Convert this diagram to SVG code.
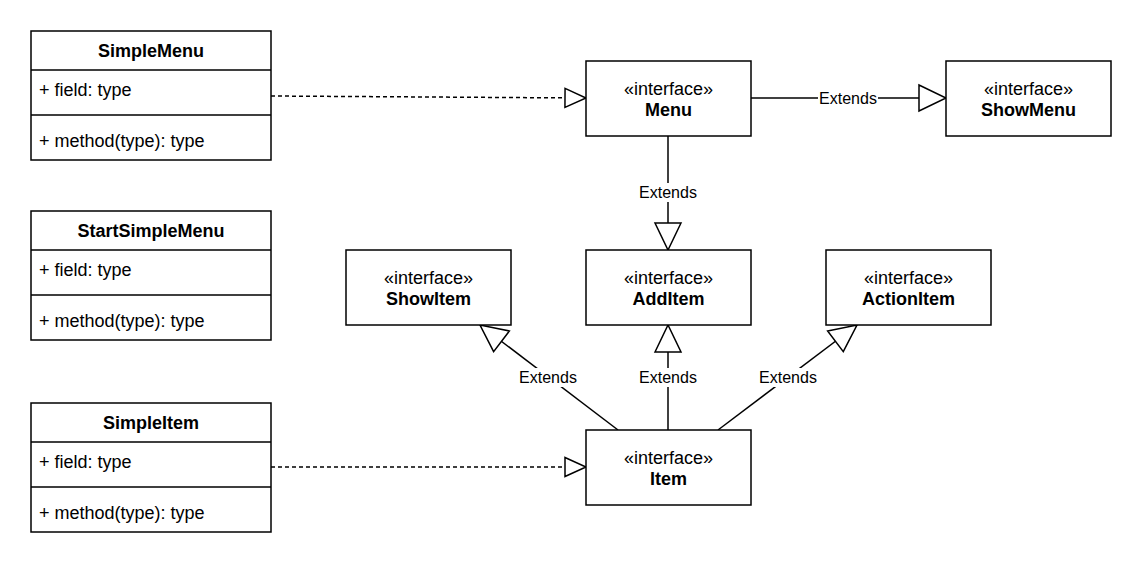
<svg xmlns="http://www.w3.org/2000/svg" width="1142" height="567" viewBox="0 0 1142 567">
<style>
.box{fill:#ffffff;stroke:#000000;stroke-width:1.5}
.div{stroke:#000000;stroke-width:1.5;fill:none}
.t{font-family:"Liberation Sans",Arial,sans-serif;font-size:18px;fill:#000000}
.b{font-weight:bold}
.mid{text-anchor:middle}
.edge{stroke:#000000;stroke-width:1.5;fill:none}
.dash{stroke-dasharray:4,3}
.lbg{fill:#ffffff}
.lbl{font-family:"Liberation Sans",Arial,sans-serif;font-size:16px;fill:#000000;text-anchor:middle}
</style>
<defs>
<marker id="ext" markerUnits="userSpaceOnUse" viewBox="-3 -3 33 32" markerWidth="33" markerHeight="32" refX="27" refY="13" orient="auto">
<path d="M0,0 L27,13 L0,26 Z" fill="#ffffff" stroke="#000000" stroke-width="1.5"/>
</marker>
<marker id="real" markerUnits="userSpaceOnUse" viewBox="-3 -3 27 25" markerWidth="27" markerHeight="25" refX="21" refY="9.5" orient="auto">
<path d="M0,0 L21,9.5 L0,19 Z" fill="#ffffff" stroke="#000000" stroke-width="1.5"/>
</marker>
</defs>

<g id="connectors">
<path class="edge dash" d="M271,96 L586,98" marker-end="url(#real)"/>
<path class="edge dash" d="M271,467 L586,467" marker-end="url(#real)"/>
<path class="edge" d="M751,98 L946,98" marker-end="url(#ext)"/>
<path class="edge" d="M668,136 L668,250" marker-end="url(#ext)"/>
<path class="edge" d="M618,430 L480,325" marker-end="url(#ext)"/>
<path class="edge" d="M668,430 L668,325" marker-end="url(#ext)"/>
<path class="edge" d="M718,430 L857,325" marker-end="url(#ext)"/>
<g id="labels">
<rect class="lbg" x="818" y="89" width="60" height="18"/>
<text class="lbl" x="848" y="104">Extends</text>
<rect class="lbg" x="638" y="183" width="60" height="19"/>
<text class="lbl" x="668" y="198">Extends</text>
<rect class="lbg" x="518" y="368" width="60" height="19"/>
<text class="lbl" x="548" y="383">Extends</text>
<rect class="lbg" x="638" y="368" width="60" height="19"/>
<text class="lbl" x="668" y="383">Extends</text>
<rect class="lbg" x="758" y="368" width="60" height="19"/>
<text class="lbl" x="788" y="383">Extends</text>
</g>
</g>

<g id="SimpleMenu">
<rect class="box" x="31" y="31" width="240" height="129"/>
<path class="div" d="M31,70 H271 M31,115 H271"/>
<text class="t b mid" x="151" y="57">SimpleMenu</text>
<text class="t" x="39" y="96">+ field: type</text>
<text class="t" x="39" y="147">+ method(type): type</text>
</g>

<g id="StartSimpleMenu">
<rect class="box" x="31" y="211" width="240" height="129"/>
<path class="div" d="M31,250 H271 M31,295 H271"/>
<text class="t b mid" x="151" y="237">StartSimpleMenu</text>
<text class="t" x="39" y="276">+ field: type</text>
<text class="t" x="39" y="327">+ method(type): type</text>
</g>

<g id="SimpleItem">
<rect class="box" x="31" y="403" width="240" height="129"/>
<path class="div" d="M31,442 H271 M31,487 H271"/>
<text class="t b mid" x="151" y="429">SimpleItem</text>
<text class="t" x="39" y="468">+ field: type</text>
<text class="t" x="39" y="519">+ method(type): type</text>
</g>

<g id="Menu">
<rect class="box" x="586" y="61" width="165" height="75"/>
<text class="t mid" x="668.5" y="95">«interface»</text>
<text class="t b mid" x="668.5" y="116">Menu</text>
</g>

<g id="ShowMenu">
<rect class="box" x="946" y="61" width="165" height="75"/>
<text class="t mid" x="1028.5" y="95">«interface»</text>
<text class="t b mid" x="1028.5" y="116">ShowMenu</text>
</g>

<g id="ShowItem">
<rect class="box" x="346" y="250" width="165" height="75"/>
<text class="t mid" x="428.5" y="284">«interface»</text>
<text class="t b mid" x="428.5" y="305">ShowItem</text>
</g>

<g id="AddItem">
<rect class="box" x="586" y="250" width="165" height="75"/>
<text class="t mid" x="668.5" y="284">«interface»</text>
<text class="t b mid" x="668.5" y="305">AddItem</text>
</g>

<g id="ActionItem">
<rect class="box" x="826" y="250" width="165" height="75"/>
<text class="t mid" x="908.5" y="284">«interface»</text>
<text class="t b mid" x="908.5" y="305">ActionItem</text>
</g>

<g id="Item">
<rect class="box" x="586" y="430" width="165" height="75"/>
<text class="t mid" x="668.5" y="464">«interface»</text>
<text class="t b mid" x="668.5" y="485">Item</text>
</g>
</svg>
